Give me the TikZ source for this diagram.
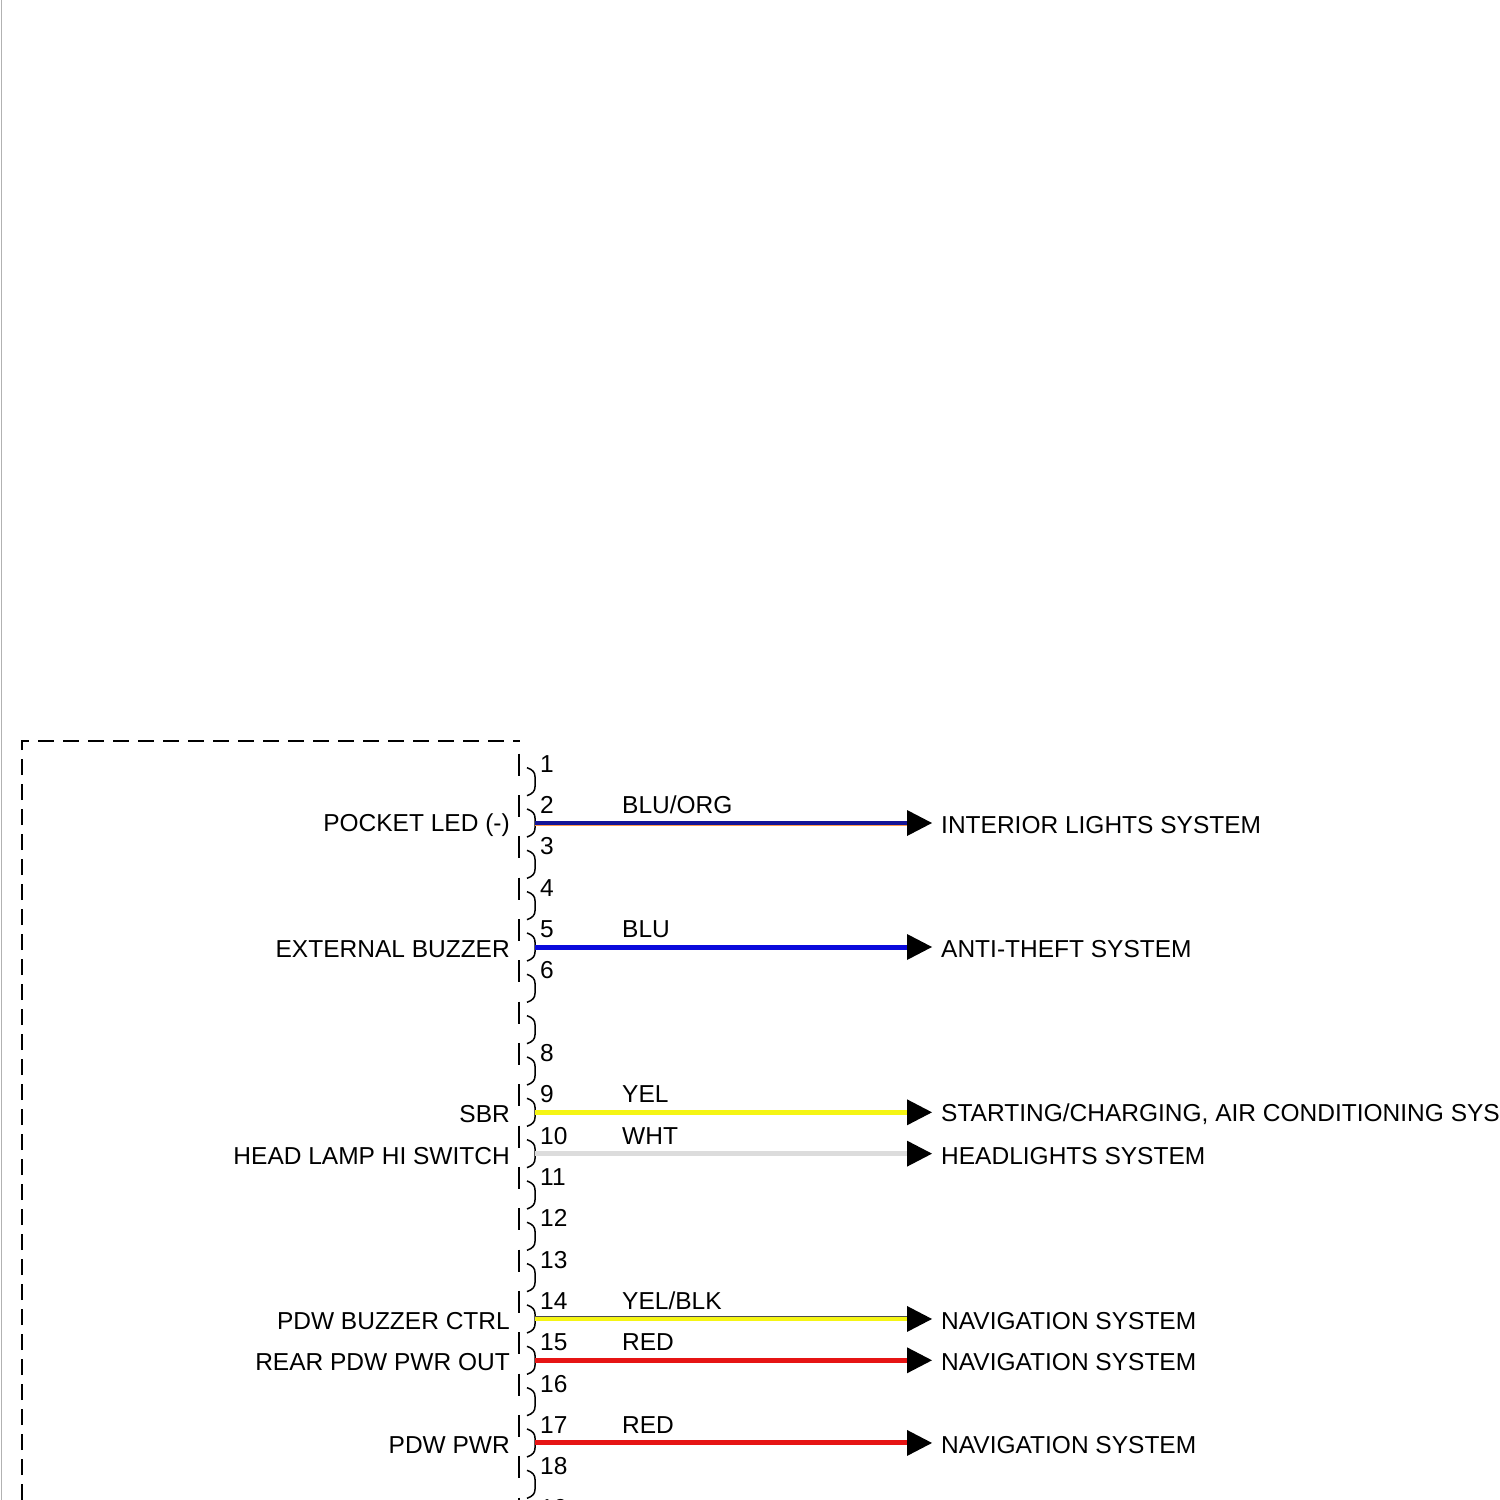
\documentclass[tikz,border=0pt]{standalone}
\usepackage{fontspec}
\setmainfont{Liberation Sans}
\begin{document}
\begin{tikzpicture}[x=1pt,y=-1pt,
  lbl/.style={font=\fontsize{24.5}{27}\selectfont,inner sep=0pt},
  arr/.style={fill=black},
  wire/.style={line width=5pt}]
\useasboundingbox (0,0) rectangle (1500,1500);
\begin{scope}
\clip (0,0) rectangle (1500,1500);
\draw[gray!60,line width=1pt] (1,0) -- (1,1500);
\draw[dashed,dash pattern=on 16pt off 9pt,line width=1.5pt] (22,1500) -- (22,741) -- (520,741);
\foreach \k in {1,...,19}{
  \pgfmathsetmacro{\c}{823+(\k-2)*41.33}
  \draw[line width=1.5pt] (519,\c-28) -- (519,\c-6);
  \draw[line width=1.5pt] (527,\c-14) .. controls (533,\c-12) and (535,\c-9) .. (535,\c-5) -- (535,\c+5) .. controls (535,\c+9) and (533,\c+12) .. (527,\c+14);
  \ifnum\k=7\else
  \node[lbl,anchor=west] (n\k) at (540,\c-18) {\k};
  \fi
}
\end{scope}
\definecolor{cblu}{RGB}{10,10,220}
\definecolor{cnavy}{RGB}{20,20,150}
\definecolor{cyel}{RGB}{245,245,20}
\definecolor{cwht}{RGB}{220,220,220}
\definecolor{cred}{RGB}{230,20,20}
\foreach \k/\left/\code/\dest in {
 2/POCKET LED (-)/BLU\slash ORG/INTERIOR LIGHTS SYSTEM,
 5/EXTERNAL BUZZER/BLU/ANTI-THEFT SYSTEM,
 9/SBR/YEL/{STARTING\slash CHARGING, AIR CONDITIONING SYSTEMS},
 10/HEAD LAMP HI SWITCH/WHT/HEADLIGHTS SYSTEM,
 14/PDW BUZZER CTRL/YEL\slash BLK/NAVIGATION SYSTEM,
 15/REAR PDW PWR OUT/RED/NAVIGATION SYSTEM,
 17/PDW PWR/RED/NAVIGATION SYSTEM}{
  \pgfmathsetmacro{\c}{823+(\k-2)*41.33}
  \coordinate (s\k) at (535,\c);
  \coordinate (e\k) at (907,\c);
  \node[lbl,anchor=east] (l\k) at (510,\c+2) {\left};
  \node[lbl,anchor=west] (c\k) at (622,\c-18) {\code};
  \node[lbl,anchor=west] (d\k) at (941,\c+2) {\dest};
  \fill[arr] (907,\c-13) -- (932,\c) -- (907,\c+13) -- cycle;
}
\draw[line width=5pt,orange!60!pink] (s2) -- (e2);
\draw[line width=3.4pt,cnavy] (s2) -- (e2);
\draw[wire,cblu] (s5) -- (e5);
\draw[wire,cyel] (s9) -- (e9);
\draw[wire,cwht] (s10) -- (e10);
\draw[line width=5pt,black!70] (s14) -- (e14);
\draw[line width=3.4pt,cyel] (s14) -- (e14);
\draw[wire,cred] (s15) -- (e15);
\draw[wire,cred] (s17) -- (e17);
\end{tikzpicture}
\end{document}
